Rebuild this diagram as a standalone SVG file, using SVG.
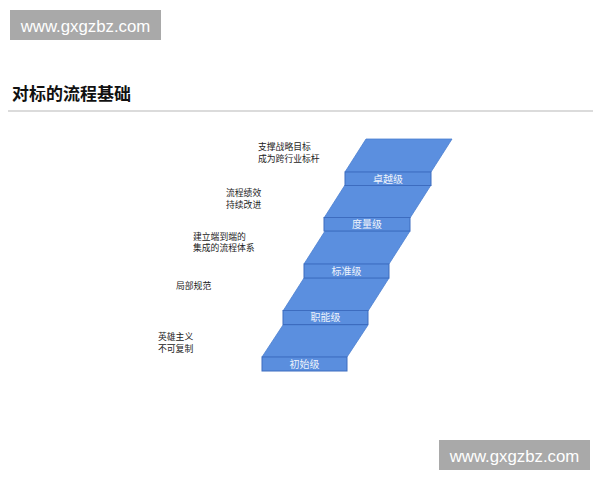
<svg xmlns="http://www.w3.org/2000/svg" width="600" height="480" viewBox="0 0 600 480">
<style>
.wm{fill:#a9a9a9}
.wmt{font-family:"Liberation Sans",Arial,sans-serif;font-size:16.8px;fill:#ffffff}
.title{font-family:"Noto Sans CJK SC","Noto Sans",sans-serif;font-size:17px;font-weight:bold;fill:#111}
.lbl{font-family:"Noto Sans CJK SC",sans-serif;font-size:8.8px;fill:#222}
.par{fill:#5b8fdf;stroke:#4a7fd0;stroke-width:0.8}
.box{fill:#5a8ede;stroke:#3d6cbf;stroke-width:1}
.bt{font-family:"Noto Sans CJK SC",sans-serif;font-size:10px;fill:#eef3fb;text-anchor:middle}
</style>
<rect width="600" height="480" fill="#ffffff"/>
<g id="watermark-top">
<rect class="wm" x="10" y="10" width="151" height="30"/>
<text class="wmt" x="85.5" y="31.5" text-anchor="middle">www.gxgzbz.com</text>
</g>
<g id="title">
<text class="title" x="12" y="100">对标的流程基础</text>
<line x1="8" y1="111" x2="593" y2="111" stroke="#cfcfcf" stroke-width="1.5"/>
</g>
<g id="connectors"></g>
<g id="step-1">
<polygon class="par" points="262,357 347,357 368,325 283,325"/>
<rect class="box" x="262" y="357" width="85" height="14"/>
<text class="bt" x="304.5" y="367.5">初始级</text>
</g>
<g id="step-2">
<polygon class="par" points="283,311 368,311 389,278 304,278"/>
<rect class="box" x="283" y="310.5" width="85" height="14"/>
<text class="bt" x="325.5" y="321">职能级</text>
</g>
<g id="step-3">
<polygon class="par" points="304,264 389,264 410,231 325,231"/>
<rect class="box" x="304" y="264" width="85" height="14"/>
<text class="bt" x="346.5" y="274.5">标准级</text>
</g>
<g id="step-4">
<polygon class="par" points="324,218 410,218 431,185 345,185"/>
<rect class="box" x="324" y="217.5" width="86" height="13.5"/>
<text class="bt" x="367" y="228">度量级</text>
</g>
<g id="step-5">
<polygon class="par" points="345,172 431,172 452,139 366,139"/>
<rect class="box" x="345" y="172" width="86" height="13.5"/>
<text class="bt" x="388" y="182.5">卓越级</text>
</g>
<g id="label-5">
<text class="lbl" x="258" y="150">支撑战略目标</text>
<text class="lbl" x="258" y="161.5">成为跨行业标杆</text>
</g>
<g id="label-4">
<text class="lbl" x="226" y="196">流程绩效</text>
<text class="lbl" x="226" y="207.5">持续改进</text>
</g>
<g id="label-3">
<text class="lbl" x="193" y="239.5">建立端到端的</text>
<text class="lbl" x="193" y="251">集成的流程体系</text>
</g>
<g id="label-2">
<text class="lbl" x="176" y="289">局部规范</text>
</g>
<g id="label-1">
<text class="lbl" x="158" y="340">英雄主义</text>
<text class="lbl" x="158" y="351.5">不可复制</text>
</g>
<g id="watermark-bottom">
<rect class="wm" x="439" y="440" width="151" height="30"/>
<text class="wmt" x="514.5" y="461.5" text-anchor="middle">www.gxgzbz.com</text>
</g>
</svg>
